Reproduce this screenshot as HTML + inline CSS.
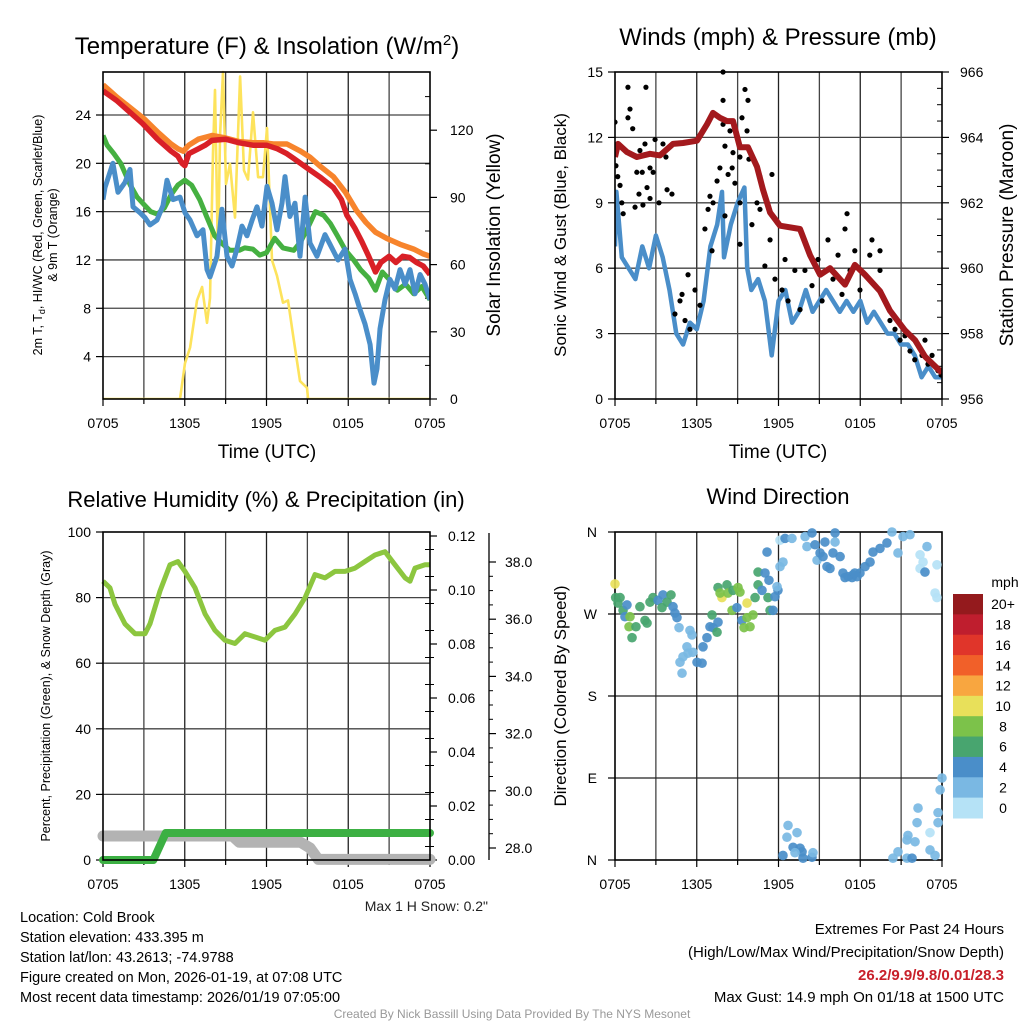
<!DOCTYPE html>
<html><head><meta charset="utf-8"><style>
body{margin:0;background:#fff}
svg{display:block;font-family:"Liberation Sans",Arial,sans-serif}
</style></head><body>
<svg id="c" width="1024" height="1024" viewBox="0 0 1024 1024" xmlns="http://www.w3.org/2000/svg"></svg>
<script>
// ---------- DATA ----------
const xTickLabels=["0705","1305","1905","0105","0705"];
const tempLeftTicks=[4,8,12,16,20,24];
const solarTicks=[0,30,60,90,120];
const windTicks=[0,3,6,9,12,15];
const presTicks=[956,958,960,962,964,966];
const rhTicks=[0,20,40,60,80,100];
const precipTicks=[0,0.02,0.04,0.06,0.08,0.10,0.12];
const snowTicks=[28,30,32,34,36,38];
const dirTicks=["N","E","S","W","N"];
const speedBins=["0","2","4","6","8","10","12","14","16","18","20+"];
const speedColors=["#b5e2f6","#7ab8e3","#4a8ec9","#48a56f","#7cc24a","#e8e05a","#f8a640","#f16029","#e0352a","#bf1e2e","#941a1d"];

const orangeT=[0,0.5,1,2,3,4,5,5.5,5.9,6.3,7,8,9,10,11,11.8,12.5,13.5,14.5,15.2,16,16.9,17.8,18.6,19.3,20,20.8,21.8,22.8,23.5,24];
const orangeV=[26.5,26,25.5,24.6,23.7,22.6,21.6,21.2,21,21.5,22,22.3,22.1,21.8,21.7,21.7,21.6,21.6,21,20.5,19.7,18.9,17.6,16.1,15.1,14.3,13.8,13.3,12.9,12.5,12.3];
const redT=[0,0.5,1,2,2.9,4,5,5.5,5.8,6,6.3,7,7.5,8,9,10,11,12,12.8,13.5,14,15,16,16.9,17.5,17.9,18.5,19,19.5,20,20.4,21,21.5,22,22.5,23,23.5,24];
const redV=[26,25.6,25.2,24.2,23.3,22,21,20.6,20,19.8,20.8,21.2,21.5,21.9,22,21.7,21.5,21.5,21.2,20.8,20.4,19.6,18.8,18,17,15.7,14.6,13.5,12.3,11,11.8,12.3,11.8,12.3,12.2,11.8,11.5,10.8];
const greenT=[0,0.3,0.8,1.3,2,2.5,3,3.5,4,4.5,5,5.5,6,6.5,7.1,7.6,8.2,8.8,9.3,10,10.4,11,11.5,12,12.6,13.2,14,14.5,15,15.6,16.2,16.7,17.2,17.8,18.4,18.9,19.5,20,20.5,21,21.6,22.2,22.8,23.4,24];
const greenV=[22.3,21.5,20.8,20,18.2,17.2,16.6,16,15.8,16.3,17.4,18.2,18.6,18.2,17,15.6,14,13.3,12.8,12.8,13,12.9,12.4,12.6,13.8,13,12.8,13.5,14.6,16,15.7,15,14,12.8,12,11.2,10.5,9.5,11,10.4,9.5,10,9.2,9.8,8.7];
const blueT=[0,0.15,0.73,1.1,1.61,1.98,2.2,2.72,3.08,3.45,3.96,4.4,4.7,5.14,5.65,6.02,6.39,6.9,7.34,7.63,7.85,8.37,8.73,9.1,9.47,9.83,10.2,10.57,10.94,11.3,11.67,12.04,12.4,12.77,13.14,13.36,13.72,14.09,14.46,14.83,15.19,15.71,16.29,16.66,17.25,17.76,18.13,18.5,18.86,19.23,19.6,19.89,20.11,20.33,20.7,21.06,21.43,21.8,22.17,22.53,22.9,23.27,23.63,24];
const blueV=[17,18,20,17.6,18.4,19.5,16.4,15.9,15.5,14.9,15.3,16.5,18.6,17,17.2,15.9,15.3,14,14.5,11.2,10.6,12.3,16.2,12.3,11.5,12.9,14.8,14,15.3,16.4,14.8,18.1,16.7,14.5,16.7,18.9,15.6,16.7,12.3,17.2,13.4,12.3,14.1,13.3,12,12.9,10.4,9.2,7.9,6.7,5,1.8,3,6.3,8.7,10.4,9.6,11.2,10,11.2,9.2,10.8,10,8.7];
const solarT=[0,5.65,6.02,6.39,6.9,7.27,7.63,7.85,8.07,8.22,8.44,8.59,8.81,9.03,9.32,9.69,10.06,10.35,10.64,11.01,11.38,11.74,12.04,12.4,12.77,13.21,13.58,13.94,14.46,14.97,15.05,24];
const solarV=[0,0,16,23,44,50,34,45,110,138,62,117,146,96,105,81,144,102,98,128,99,99,121,62,55,43,44,29,8,5,0,0];

const presT=[0,0.22,0.88,1.61,2.57,3.3,4.26,4.99,6.02,6.75,7.19,7.71,8.22,8.66,9.17,9.76,10.42,10.86,11.38,12.11,13.58,14.31,15.05,15.78,16.88,17.61,18.35,19.45,20.18,21.28,22.02,22.75,23.49,24];
const presV=[963.4,963.8,963.55,963.4,963.5,963.45,963.8,963.83,963.9,964.4,964.75,964.6,964.5,964.5,963.7,963.7,963.1,962.4,961.7,961.3,961.2,960.4,959.8,960.0,959.5,960.1,959.8,959.3,958.7,958.1,957.8,957.3,957.0,956.8];
const windT=[0,0.1,0.5,1,1.5,2,2.5,3,3.5,4,4.5,5,5.5,6,6.5,7,7.5,7.85,8,8.5,9,9.5,9.7,10,10.5,11,11.5,12,12.5,13,13.5,14,14.5,15,15.5,16,16.5,17,17.5,18,18.5,19,19.5,20,20.5,21,21.5,22,22.5,23,23.5,24];
const windV=[7,9.5,6.5,6,5.5,7,6,7.5,6.5,5,3,2.5,3.5,3.2,4.5,7,8,9.5,6.5,8,9,9.7,6,5,5.5,4.5,2,4.5,5,3.5,4,5,4,4.5,5,4.5,4,4.5,4,4.5,3.5,4,3.5,3,3,2.5,2.5,2,1,1.5,1,1];
const gustT=[0,0.95,1.1,0.95,1.3,0.07,0.2,0.37,0.5,0.6,1.83,1.6,2,1.76,2.2,2.27,2.35,2.57,2.8,2.94,2.57,1.47,2.05,3.23,3.52,3.74,3.82,4.18,6.83,6.97,7.49,7.7,7.2,7.93,7.93,7.93,8.07,8.3,8.44,8.66,8.6,8.8,9.17,9.32,9.54,9.76,9.69,9.83,9.17,10.64,11.52,10.42,17.03,4.77,5.14,5.5,4.4,5.87,6.24,5.36,4.92,6.6,7.12,8.07,9.17,10.05,10.64,11,11.38,11.74,12.26,12.7,13.2,13.58,12.48,11.9,13.94,14.46,14.9,15.2,15.63,16,16.37,16.66,16.88,17.25,17.6,17.98,18.35,18.7,19.08,19.45,19.82,20.18,20.55,19.45,18.86,20.92,21.28,21.65,22,22.24,22.53,22.97,23.27,23.7,23.93,22.75];
const gustV=[12.7,14.3,13.3,12.9,12.4,10.7,10.2,9.8,9,8.5,11.4,10.4,10.4,9.4,11.7,14.3,9.7,10.6,10.4,11.9,9.2,8.8,8.9,9,11.7,11.1,9.6,9.4,8.7,9.3,10,10.6,9,15,13.7,12.6,11.6,10.3,12.3,11.3,10.6,9.9,11.1,12.9,14.2,13.7,12.3,11,9,10.2,10.3,9,8.5,4.5,3.6,3.2,3.9,5,4.3,5.7,4.8,7.8,6.8,8.4,7.1,8,8.7,6.1,7.3,5.5,5,4.5,5.9,4.1,6.4,8.1,5.9,5.2,6.4,4.5,7.3,5.5,6.6,4.8,7.8,5.9,6.8,5,5.7,6.6,5.2,5.9,4.5,3.6,3.2,6.8,7.3,2.7,2.9,2.2,1.8,2.5,2,1.6,2,1.3,1.1,2.7];

const rhT=[0,0.51,0.88,1.61,2.35,3.08,3.45,4.18,4.92,5.5,6.02,6.75,7.49,8.22,8.95,9.69,10.42,11.16,11.89,12.62,13.36,14.09,14.83,15.56,16.29,17.03,17.76,18.5,19.23,19.96,20.7,21.43,22.17,22.53,22.9,23.63,24];
const rhV=[85,83,78,72,69,69,72,82,90,91,88,83,75,70,67,66,69,68,67,70,71,75,80,87,86,88,88,89,91,93,94,90,86,85,89,90,90];
const precipT=[0,3.7,4.6,24];
const precipV=[0,0,0.01,0.01];
const snowT=[0,9.5,10,14.5,15.2,15.8,24];
const snowV=[28.42,28.42,28.2,28.2,28.0,27.6,27.6];

const wdT=[0,0.05,0.37,0.22,0.59,0.73,0.88,1.1,1.03,1.25,1.54,1.83,2.2,2.35,2.57,2.79,3.16,3.45,3.52,3.82,4.11,4.26,4.4,4.55,4.7,5.5,5.65,5.28,5.36,4.99,4.77,4.92,5.72,6.02,6.39,6.46,6.75,6.97,7.12,7.19,7.49,7.56,7.56,7.85,7.71,8.22,8.29,8.59,8.66,8.95,9.03,9.17,9.32,9.47,9.69,9.69,9.91,10.13,10.28,10.5,10.5,10.79,11.01,11.3,11.23,11.38,11.6,11.74,11.96,11.89,12.11,12.33,11.16,12.11,12.48,12.99,13.95,14.09,14.46,14.68,14.83,15.05,15.41,15.27,15.56,15.78,16.15,16.15,16.0,16.52,16.73,17.1,17.47,17.98,18.35,18.72,18.94,19.45,19.96,20.33,20.77,21.14,21.65,22.39,22.61,22.39,22.75,22.9,23.49,23.63,23.63,16.88,17.4,17.76,17.6,12.33,12.7,12.62,13.36,13.07,13.58,13.8,13.73,13.21,14.46,14.53,20.4,20.77,21.43,21.8,21.5,21.43,22.02,22.17,22.24,23.12,23.12,23.49,23.71,23.71,23.86,24.0];
const wdD=[303,288,288,282,274,267,280,267,256,244,256,278,263,260,283,288,285,277,291,283,291,278,271,266,255,252,247,234,227,223,217,205,228,217,216,234,244,256,269,255,250,261,299,288,293,302,293,274,296,277,299,294,263,255,282,266,256,269,288,302,316,296,315,307,288,274,274,289,296,300,322,327,338,351,353,353,355,344,359,346,329,337,349,333,322,320,359,349,337,333,315,311,313,315,322,327,338,342,348,360,337,355,357,335,327,320,316,344,293,288,324,310,310,311,315,5,38,25,30,14,13,2,9,8,3,8,2,9,2,2,27,22,20,41,57,30,11,5,41,52,77,90];
const wdS=[11,7,7,7,7,5,5,9,9,7,7,7,7,7,7,7,5,7,5,7,7,5,5,5,3,3,3,3,3,3,3,3,3,5,5,5,5,5,7,5,7,5,7,11,9,7,9,9,7,5,9,9,5,9,11,9,9,9,7,7,7,5,5,5,7,7,5,5,5,3,3,3,5,1,5,3,3,3,5,5,3,5,5,5,5,5,5,3,5,5,5,5,5,5,5,5,5,5,5,3,3,3,3,1,1,1,5,3,1,1,1,5,5,5,5,5,3,3,3,5,5,5,5,3,5,3,3,3,3,5,3,3,3,3,3,1,3,3,3,3,3,3];

// ---------- DRAW ----------
const svg=document.getElementById('c');
const NS='http://www.w3.org/2000/svg';
function el(tag,attrs,parent){const e=document.createElementNS(NS,tag);for(const k in attrs)e.setAttribute(k,attrs[k]);(parent||svg).appendChild(e);return e;}
function txt(s,x,y,size,anchor,parent,extra){const e=el('text',Object.assign({x:x,y:y,'font-size':size,'text-anchor':anchor||'middle',fill:'#000'},extra||{}),parent);e.textContent=s;return e;}
function line(x1,y1,x2,y2,st,w,parent){return el('line',{x1:x1,y1:y1,x2:x2,y2:y2,stroke:st,'stroke-width':w},parent);}
function pathFrom(ts,vs,fx,fy){let d='';for(let i=0;i<ts.length;i++){d+=(i?'L':'M')+fx(ts[i]).toFixed(1)+','+fy(vs[i]).toFixed(1);}return d;}

function frame(L,R,T,B,name){
  const g=el('g',{});
  
  
  const fx=t=>L+(R-L)*t/24;
  for(let i=1;i<8;i++){const x=fx(i*3);line(x,T,x,B,i%2?'#444':'#222',1.3,g);}
  for(let i=0;i<=8;i++){const x=fx(i*3);line(x,B,x,B+(i%2?5:7),'#000',1.2,g);}
  xTickLabels.forEach((s,i)=>{const t=txt(s,fx(i*6),B+29,14,'middle',g);});
  return {g:g,fx:fx};
}
function box(L,R,T,B,g){el('rect',{x:L,y:T,width:R-L,height:B-T,fill:'none',stroke:'#000','stroke-width':1.6},g);}

// ===== Panel 1 =====
(function(){
  const L=103,R=430,T=72,B=399;
  const f=frame(L,R,T,B,'temperature-panel');const g=f.g,fx=f.fx;
  const fy=v=>115+(24-v)*12.08, fs=v=>399-v*2.24;
  tempLeftTicks.forEach(v=>{line(L,fy(v),R,fy(v),'#444',1.3,g);line(L-7,fy(v),L,fy(v),'#000',1.2,g);const t=txt(v,L-12,fy(v)+5,14,'end',g);});
  solarTicks.forEach(v=>{line(R,fs(v),R+7,fs(v),'#000',1.2,g);const t=txt(v,R+20,fs(v)+5,14,'start',g);});
  for(let v=15;v<146;v+=30){line(R-5,fs(v),R,fs(v),'#000',1,g);}
  const clip=el('clipPath',{id:'cp1'},g);el('rect',{x:L,y:T-2,width:R-L,height:B-T+2},clip);
  const lg=el('g',{'clip-path':'url(#cp1)'},g);
  const s1=el('path',{d:pathFrom(solarT,solarV,fx,fs),fill:'none',stroke:'#fde35c','stroke-width':2.6,'stroke-linejoin':'round'},lg);
  
  const s2=el('path',{d:pathFrom(greenT,greenV,fx,fy),fill:'none',stroke:'#45b041','stroke-width':5,'stroke-linejoin':'round'},lg);
  
  const s3=el('path',{d:pathFrom(blueT,blueV,fx,fy),fill:'none',stroke:'#4a8ec9','stroke-width':5,'stroke-linejoin':'round'},lg);
  
  const s4=el('path',{d:pathFrom(orangeT,orangeV,fx,fy),fill:'none',stroke:'#f7842c','stroke-width':5.5,'stroke-linejoin':'round'},lg);
  
  const s5=el('path',{d:pathFrom(redT,redV,fx,fy),fill:'none',stroke:'#d92027','stroke-width':5.5,'stroke-linejoin':'round'},lg);
  
  box(L,R,T,B,g);
  const ti=el('text',{x:267,y:54,'font-size':24,'text-anchor':'middle'},g);ti.innerHTML='Temperature (F) &amp; Insolation (W/m<tspan dy="-9" font-size="15">2</tspan><tspan dy="9">)</tspan>';
  
  const xl=txt('Time (UTC)',267,458,19,'middle',g);
  const yl=el('text',{transform:'translate(42,235) rotate(-90)','font-size':12.5,'text-anchor':'middle'},g);yl.innerHTML='2m T, T<tspan dy="3" font-size="9">d</tspan><tspan dy="-3">, HI/WC (Red, Green, Scarlet/Blue)</tspan>';
  
  const yl2=txt('& 9m T (Orange)',0,0,12.5,'middle',g,{transform:'translate(57,235) rotate(-90)'});
  const yr=txt('Solar Insolation (Yellow)',0,0,19,'middle',g,{transform:'translate(500,235) rotate(-90)'});
})();

// ===== Panel 2 =====
(function(){
  const L=615,R=942,T=72,B=399;
  const f=frame(L,R,T,B,'wind-pressure-panel');const g=f.g,fx=f.fx;
  const fy=v=>72+(15-v)*21.8, fp=p=>72+(966-p)*32.7;
  windTicks.forEach(v=>{if(v>0&&v<15)line(L,fy(v),R,fy(v),'#444',1.3,g);line(L-7,fy(v),L,fy(v),'#000',1.2,g);const t=txt(v,L-12,fy(v)+5,14,'end',g);});
  presTicks.forEach(v=>{line(R,fp(v),R+7,fp(v),'#000',1.2,g);const t=txt(v,R+18,fp(v)+5,14,'start',g);});
  for(let p=956.5;p<966;p+=0.5){if(p%2)line(R-5,fp(p),R,fp(p),'#000',1,g);}
  const clip=el('clipPath',{id:'cp2'},g);el('rect',{x:L,y:T-4,width:R-L,height:B-T+4},clip);
  const lg=el('g',{'clip-path':'url(#cp2)'},g);
  const w=el('path',{d:pathFrom(windT,windV,fx,fy),fill:'none',stroke:'#4a8ec9','stroke-width':4.5,'stroke-linejoin':'round'},lg);
  
  for(let i=0;i<gustT.length;i++){const c=el('circle',{cx:fx(gustT[i]),cy:fy(gustV[i]),r:2.6,fill:'#000'},lg);
    }
  const p=el('path',{d:pathFrom(presT,presV,fx,fp),fill:'none',stroke:'#a3191d','stroke-width':6,'stroke-linejoin':'round'},lg);
  
  box(L,R,T,B,g);
  const ti=txt('Winds (mph) & Pressure (mb)',778,45,24,'middle',g);
  const xl=txt('Time (UTC)',778,458,19,'middle',g);
  const yl=txt('Sonic Wind & Gust (Blue, Black)',0,0,17,'middle',g,{transform:'translate(566,235) rotate(-90)'});
  const yr=txt('Station Pressure (Maroon)',0,0,19,'middle',g,{transform:'translate(1013,235) rotate(-90)'});
})();

// ===== Panel 3 =====
(function(){
  const L=103,R=430,T=532,B=860;
  const f=frame(L,R,T,B,'humidity-precip-panel');const g=f.g,fx=f.fx;
  const fy=v=>532+(100-v)*3.28, fpr=v=>860-v*2700, fsn=s=>848-(s-28)*28.6;
  rhTicks.forEach(v=>{if(v>0&&v<100)line(L,fy(v),R,fy(v),'#444',1.3,g);line(L-7,fy(v),L,fy(v),'#000',1.2,g);const t=txt(v,L-12,fy(v)+5,14,'end',g);});
  precipTicks.forEach(v=>{line(R,fpr(v),R+7,fpr(v),'#000',1.2,g);const t=txt(v.toFixed(2),R+18,fpr(v)+5,14,'start',g);});
  for(let v=0.005;v<0.12;v+=0.01){line(R,fpr(v),R+4,fpr(v),'#000',1,g);line(R-5,fpr(v),R,fpr(v),'#000',1,g);}
  line(489,533,489,860,'#000',1.3,g);
  snowTicks.forEach(v=>{line(489,fsn(v),496,fsn(v),'#000',1.2,g);const t=txt(v.toFixed(1),505,fsn(v)+5,14,'start',g);});
  for(let v=28.5;v<38.5;v+=0.5){if(v%2)line(489,fsn(v),493,fsn(v),'#000',1,g);}
  const sn=el('path',{d:pathFrom(snowT,snowV,fx,fsn),fill:'none',stroke:'#b3b3b3','stroke-width':11,'stroke-linecap':'round','stroke-linejoin':'round'},g);
  
  const pr=el('path',{d:pathFrom(precipT,precipV,fx,fpr),fill:'none',stroke:'#3cb043','stroke-width':8,'stroke-linecap':'round','stroke-linejoin':'round'},g);
  
  const rh=el('path',{d:pathFrom(rhT,rhV,fx,fy),fill:'none',stroke:'#8cc63f','stroke-width':5,'stroke-linejoin':'round'},g);
  
  box(L,R,T,B,g);
  const ti=txt('Relative Humidity (%) & Precipitation (in)',266,507,22,'middle',g);
  const yl=txt('Percent, Precipitation (Green), & Snow Depth (Gray)',0,0,12.5,'middle',g,{transform:'translate(50,696) rotate(-90)'});
  const ms=txt('Max 1 H Snow: 0.2"',488,911,14,'end',g,{fill:'#222'});
})();

// ===== Panel 4 =====
(function(){
  const L=615,R=942,T=532,B=860;
  const f=frame(L,R,T,B,'wind-direction-panel');const g=f.g,fx=f.fx;
  const fd=d=>860-d*328/360;
  dirTicks.forEach((s,i)=>{const y=fd(i*90);if(i>0&&i<4)line(L,y,R,y,'#222',1.3,g);line(L-7,y,L,y,'#000',1.2,g);const t=txt(s,L-18,y+5,14,'end',g);});
  box(L,R,T,B,g);
  function colorFor(s){let i=Math.min(10,Math.floor(s/2));return speedColors[i];}
  for(let i=0;i<wdT.length;i++){const c=el('circle',{cx:fx(wdT[i]),cy:fd(wdD[i]),r:4.8,fill:colorFor(wdS[i]),'fill-opacity':0.92},g);
    }
  const ti=txt('Wind Direction',778,504,22,'middle',g);
  const yl=txt('Direction (Colored By Speed)',0,0,17,'middle',g,{transform:'translate(566,696) rotate(-90)'});
  const cb=el('g',{},g);
  const h=224/speedBins.length;
  speedBins.forEach((s,i)=>{const k=speedBins.length-1-i;const y=594+i*h;
    const r=el('rect',{x:953,y:y,width:30,height:h+0.5,fill:speedColors[k]},cb);
    const t=txt(speedBins[k],1003,y+h/2+5,14,'middle',cb);});
  const u=txt('mph',1005,587,14,'middle',cb);
})();

// ===== Footer =====
(function(){
  const g=el('g',{});
  ["Location: Cold Brook","Station elevation: 433.395 m","Station lat/lon: 43.2613; -74.9788","Figure created on Mon, 2026-01-19, at 07:08 UTC","Most recent data timestamp: 2026/01/19 07:05:00"].forEach((s,i)=>{txt(s,20,922+i*20,14.5,'start',g);});
  const r=el('g',{});
  txt('Extremes For Past 24 Hours',1004,934,15,'end',r);
  txt('(High/Low/Max Wind/Precipitation/Snow Depth)',1004,957,15,'end',r);
  txt('26.2/9.9/9.8/0.01/28.3',1004,980,15,'end',r,{fill:'#c8202a','font-weight':'bold'});
  txt('Max Gust: 14.9 mph On 01/18 at 1500 UTC',1004,1002,15,'end',r);
  const c=txt('Created By Nick Bassill Using Data Provided By The NYS Mesonet',512,1018,12,'middle',null,{fill:'#999'});
  
})();
</script>
</body></html>
